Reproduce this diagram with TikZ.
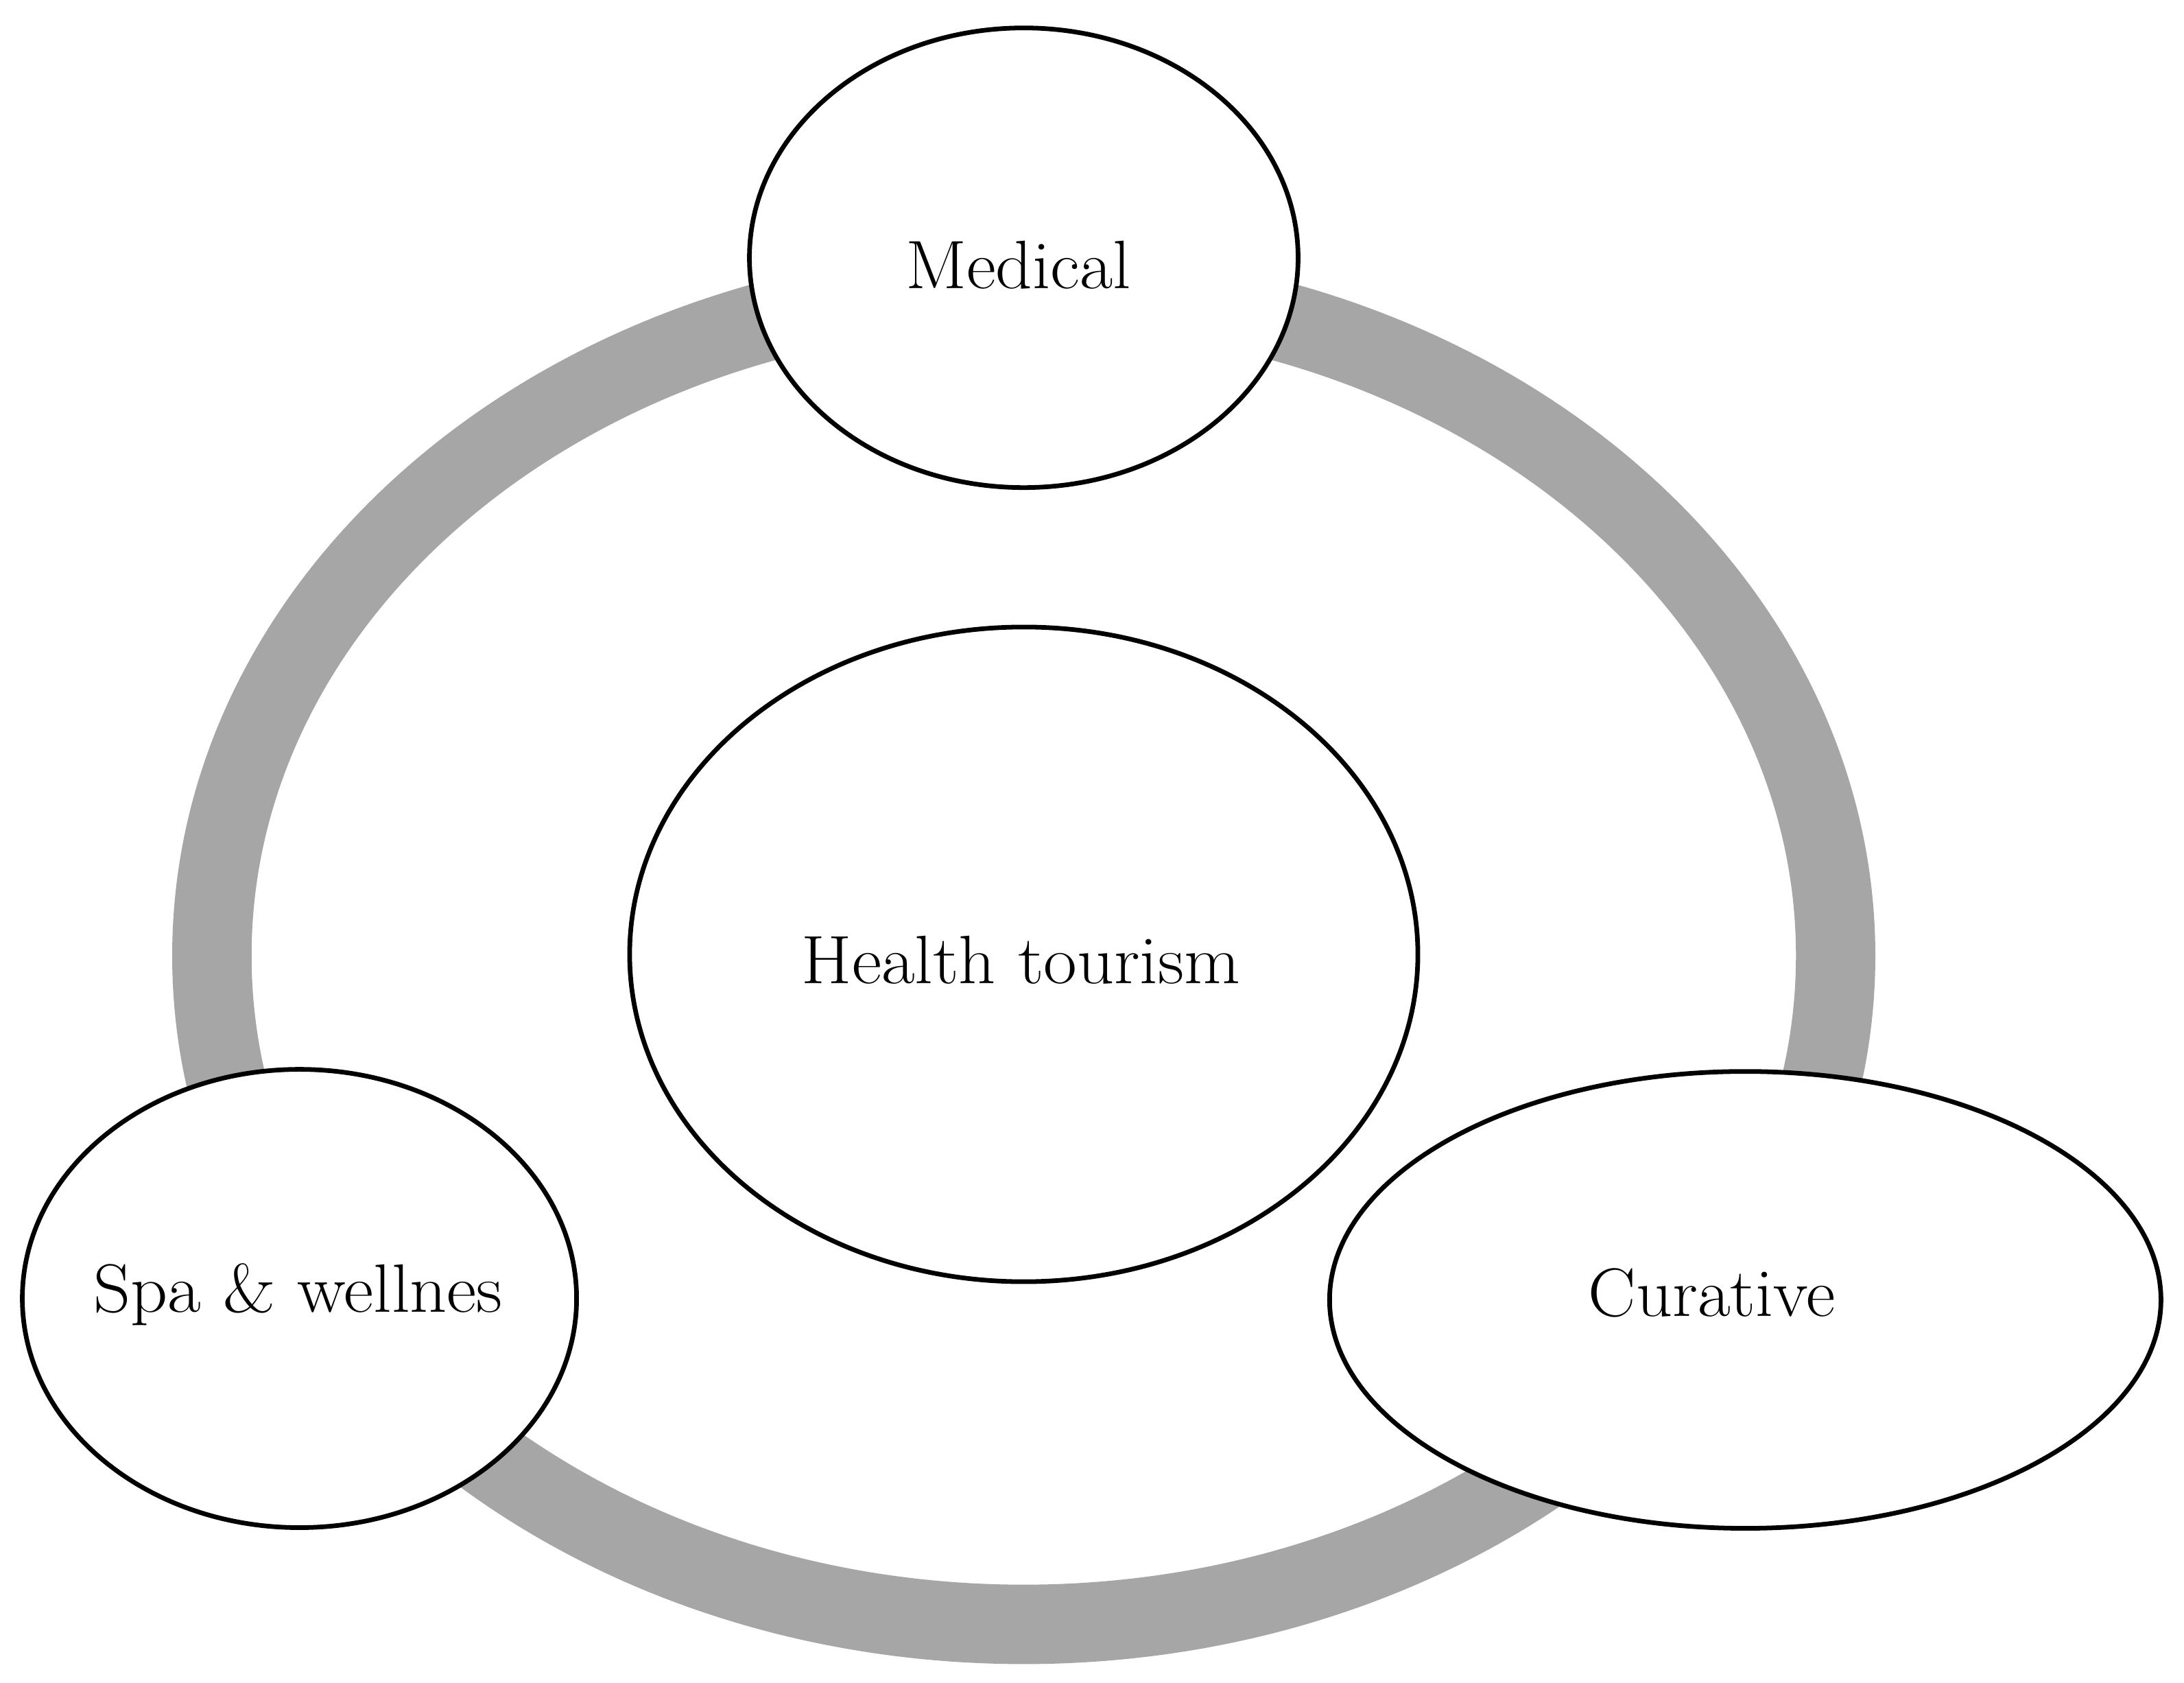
\documentclass[tikz,border=0pt]{standalone}
\usetikzlibrary{shapes.geometric}
\definecolor{ringgray}{HTML}{A6A6A6}
\begin{document}
\begin{tikzpicture}[x=0.02cm,y=-0.02cm,
  bubble/.style={ellipse,draw=black,fill=white,line width=1.9pt,inner sep=0pt},
  lbl/.style={anchor=base,inner sep=0pt,font=\fontsize{28}{33}\selectfont}]
\useasboundingbox (0,0) rectangle (1568,1208);
% ring
\draw[ringgray,line width=1.14cm] (735,686) ellipse [x radius=11.66cm,y radius=9.6cm];
% bubbles
\node[bubble,minimum width=7.88cm,minimum height=6.6cm] (med) at (735,185) {};
\node[bubble,minimum width=11.32cm,minimum height=9.4cm] (ht) at (735,685) {};
\node[bubble,minimum width=7.96cm,minimum height=6.58cm] (spa) at (215,932) {};
\node[bubble,minimum width=11.94cm,minimum height=6.56cm] (cur) at (1253,933) {};
% labels
\node[lbl] (medt) at (731,207) {\scalebox{1.05}[1]{Medical}};
\node[lbl] (htt) at (733,706) {\scalebox{1.06}[1]{Health tourism}};
\node[lbl] (spat) at (214,942) {\scalebox{1.06}[1]{Spa \& wellnes}};
\node[lbl] (curt) at (1229,945) {\scalebox{1.04}[1]{Curative}};
\end{tikzpicture}
\end{document}
